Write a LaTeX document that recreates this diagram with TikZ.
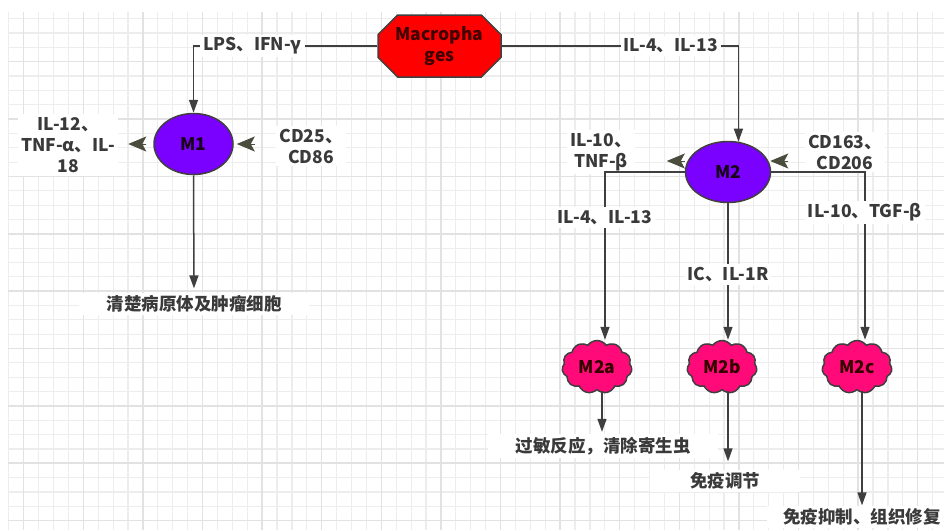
\documentclass[tikz,border=0pt]{standalone}
\usepackage{fontspec}
\setmainfont{Noto Sans CJK SC}
\usetikzlibrary{arrows.meta,shapes.geometric,shapes.misc,shapes.symbols}

\definecolor{linegray}{HTML}{3F3F3F}
\definecolor{textgray}{HTML}{3A3A3A}
\definecolor{chevgray}{HTML}{4A4D3C}
\definecolor{macred}{HTML}{FF0000}
\definecolor{cellviolet}{HTML}{7A00FF}
\definecolor{subpink}{HTML}{FF0A78}
\definecolor{gridlight}{HTML}{EDEDED}
\definecolor{griddark}{HTML}{E2E2E2}

\begin{document}
\begin{tikzpicture}[
    x=1pt, y=-1pt,
    font=\fontsize{17.5}{21}\selectfont\bfseries,
    gridminor/.style={gridlight, line width=1.2pt},
    gridmajor/.style={griddark, line width=1.5pt},
    octa/.style={chamfered rectangle, chamfered rectangle xsep=16pt, draw=linegray, line width=1.5pt,
        fill=macred, text=black!75!red, align=center, minimum width=123pt, minimum height=62pt, inner sep=0pt},
    cell/.style={ellipse, draw=linegray, line width=1.5pt, fill=cellviolet, text=black!80!violet,
        minimum width=79pt, minimum height=61pt},
    subcell/.style={cloud, cloud puffs=11, cloud puff arc=110, aspect=1.35, draw=linegray, line width=1.5pt,
        fill=subpink, text=black!80!red, minimum width=70pt, minimum height=53pt, inner sep=0pt},
    lab/.style={fill=white, text=textgray, align=center, inner sep=3pt},
    arr/.style={draw=linegray, line width=1.5pt, -{Triangle[length=13pt, width=9pt]}},
    chev/.style={draw=chevgray, line width=1pt, -{Stealth[length=18pt, width=15pt, inset=4pt, fill=chevgray]}}
]
    \useasboundingbox (0,0) rectangle (944,530);

    \foreach \i in {0,...,62}
        \draw[gridminor] ({8.8+14.9*\i},11.7) -- ({8.8+14.9*\i},530);
    \foreach \j in {0,...,35}
        \draw[gridminor] (8,{18.7+14.34*\j}) -- (944,{18.7+14.34*\j});
    \foreach \i in {1,5,...,61}
        \draw[gridmajor] ({8.8+14.9*\i},11.7) -- ({8.8+14.9*\i},530);
    \foreach \j in {3,7,...,35}
        \draw[gridmajor] (8,{18.7+14.34*\j}) -- (944,{18.7+14.34*\j});

    \node[octa] (mac) at (439.5,46) {Macropha\\ges};
    \node[cell] (M1) at (193.5,144) {M1};
    \node[cell, minimum width=85pt] (M2) at (728,172) {M2};
    \node[subcell] (M2a) at (597,367) {M2a};
    \node[subcell] (M2b) at (722,367) {M2b};
    \node[subcell] (M2c) at (857,367) {M2c};

    \node[lab] (il12) at (68,145) {IL-12、\\TNF-α、IL-\\18};
    \node[lab] (cd25) at (311,146) {CD25、\\CD86};
    \node[lab] (il10) at (601,152) {IL-10、\\TNF-β};
    \node[lab] (cd163) at (845,152) {CD163、\\CD206};

    \node[lab, minimum width=230pt] (kill) at (194,304) {清楚病原体及肿瘤细胞};
    \node[lab, minimum width=230pt] (allergy) at (603,446) {过敏反应，清除寄生虫};
    \node[lab, minimum width=150pt] (regul) at (725,481) {免疫调节};
    \node[lab, minimum width=190pt] (repair) at (862,517) {免疫抑制、组织修复};

    \draw[arr] (mac.west) -| node[lab, pos=0.34] (lps) {LPS、IFN-γ} (M1.north);
    \draw[arr] (mac.east) -| node[lab, pos=0.357] (il4) {IL-4、IL-13} (M2.71);

    \draw[arr] (M2.west) -| node[lab, pos=0.636] (il4b) {IL-4、IL-13} ([xshift=8pt]M2a.north);
    \draw[arr] (M2.south) -- node[lab, pos=0.52] (ic) {IC、IL-1R} (M2.south |- M2b.north);
    \draw[arr] (M2.east) -| node[lab, pos=0.621] (il10b) {IL-10、TGF-β} ([xshift=8pt]M2c.north);

    \draw[arr, shorten >=4pt] (M1.south) -- (kill.north);
    \draw[arr, shorten >=2pt] ([xshift=5pt]M2a.south) -- ([xshift=5pt]M2a.south |- allergy.north);
    \draw[arr, shorten >=8pt] ([xshift=6pt]M2b.south) -- ([xshift=6pt]M2b.south |- regul.north);
    \draw[arr] ([xshift=5pt]M2c.south) -- ([xshift=5pt]M2c.south |- repair.north);

    \draw[chev] ([xshift=-7pt]M1.west) -- ([xshift=-25pt]M1.west);
    \draw[chev] ([xshift=21pt]M1.east) -- ([xshift=3pt]M1.east);
    \draw[chev] ([yshift=11pt]M2.west) -- ([xshift=-18pt,yshift=11pt]M2.west);
    \draw[chev] ([xshift=17pt,yshift=11pt]M2.east) -- ([xshift=-1pt,yshift=11pt]M2.east);
\end{tikzpicture}
\end{document}
